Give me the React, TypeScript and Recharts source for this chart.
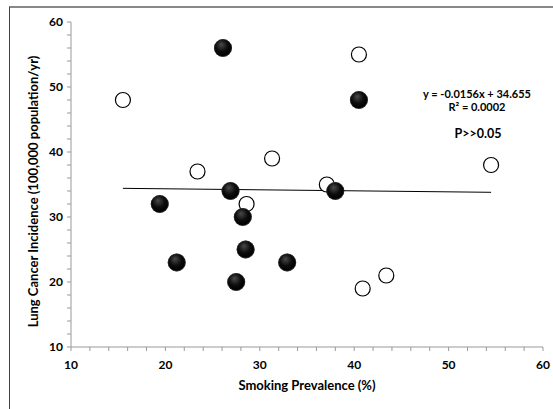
import React from 'react';
import { ScatterChart, Scatter, XAxis, YAxis, ReferenceLine, Label } from 'recharts';

// Open circles
const openX = [15.5, 23.4, 28.6, 31.3, 37.1, 40.5, 40.9, 43.4, 54.5];
const openY = [48, 37, 32, 39, 35, 55, 19, 21, 38];
// Filled spheres
const filledX = [19.4, 21.2, 26.1, 26.9, 27.5, 28.2, 28.5, 32.9, 38.0, 40.5];
const filledY = [32, 23, 56, 34, 20, 30, 25, 23, 34, 48];

const xTicks = [10, 12, 14, 16, 18, 20, 22, 24, 26, 28, 30, 32, 34, 36, 38, 40, 42, 44, 46, 48, 50, 52, 54, 56, 58, 60];
const yTicks = [10, 12, 14, 16, 18, 20, 22, 24, 26, 28, 30, 32, 34, 36, 38, 40, 42, 44, 46, 48, 50, 52, 54, 56, 58, 60];

// Trend line end points (from y = -0.0156x + 34.655)
const trendX = [15.5, 54.5];
const trendY = [34.41, 33.80];

const equationText = 'y = -0.0156x + 34.655';
const r2Text = 'R² = 0.0002';
const pText = 'P>>0.05';
const xTitle = 'Smoking Prevalence (%)';
const yTitle = 'Lung Cancer Incidence (100,000 population/yr)';

const openData = openX.map((x, i) => ({ x, y: openY[i] }));
const filledData = filledX.map((x, i) => ({ x, y: filledY[i] }));

const FONT = 'Lato, "Open Sans", sans-serif';

const OpenDot = (props: any) => {
  const { cx, cy } = props;
  if (cx == null || cy == null) return null;
  return <circle cx={cx} cy={cy} r={7.5} fill="#fff" stroke="#000" strokeWidth={1.2} />;
};

const FilledDot = (props: any) => {
  const { cx, cy } = props;
  if (cx == null || cy == null) return null;
  return (
    <g>
      <circle cx={cx} cy={cy} r={9} fill="url(#ballGrad)" />
      <circle cx={cx} cy={cy} r={8.6} fill="none" stroke="#3a3a3a" strokeWidth={0.8} strokeOpacity={0.6} />
    </g>
  );
};

const tickStyle = { fill: '#000', fontSize: 12, fontWeight: 700, fontFamily: FONT };

export default function App() {
  return (
    <div style={{ position: 'absolute', left: 0, top: 0, width: 553, height: 409, background: '#fff' }}>
      <div style={{ position: 'absolute', left: 9, top: 6, width: 544, height: 403, borderLeft: '1px solid #444', borderTop: '2px solid #888' }} />
      <div style={{ position: 'absolute', left: 0, top: 0 }}>
        <ScatterChart width={553} height={409} margin={{ top: 22, right: 10, bottom: 0, left: 0 }}>
          <defs>
            <radialGradient id="ballGrad" cx="45%" cy="40%" r="60%" fx="40%" fy="30%">
              <stop offset="0%" stopColor="#4a4a4a" />
              <stop offset="55%" stopColor="#0d0d0d" />
              <stop offset="90%" stopColor="#000" />
              <stop offset="100%" stopColor="#333" />
            </radialGradient>
          </defs>
          <XAxis
            type="number"
            dataKey="x"
            domain={[10, 60]}
            ticks={xTicks}
            interval={0}
            allowDataOverflow
            tickFormatter={(v: number) => (v % 10 === 0 ? String(v) : '')}
            tick={tickStyle}
            tickLine={{ stroke: '#999' }}
            axisLine={{ stroke: '#999' }}
            tickSize={4}
            tickMargin={9}
            height={62}
          >
            <Label
              content={(p: any) => {
                const vb = p.viewBox || { x: 71, y: 347, width: 472 };
                return (
                  <text x={vb.x + vb.width / 2} y={vb.y + 43} textAnchor="middle" fontFamily={FONT} fontWeight={700} fontSize={13} fill="#000">
                    {xTitle}
                  </text>
                );
              }}
            />
          </XAxis>
          <YAxis
            type="number"
            dataKey="y"
            domain={[10, 60]}
            ticks={yTicks}
            interval={0}
            allowDataOverflow
            tickFormatter={(v: number) => (v % 10 === 0 ? String(v) : '')}
            tick={tickStyle}
            tickLine={{ stroke: '#999' }}
            axisLine={{ stroke: '#999' }}
            tickSize={4}
            tickMargin={4}
            width={71}
          >
            <Label
              content={(p: any) => {
                const vb = p.viewBox || { x: 0, y: 22, width: 71, height: 325 };
                const cx = 33;
                const cy = vb.y + vb.height / 2 + 7;
                return (
                  <text x={cx} y={cy} transform={`rotate(-90, ${cx}, ${cy})`} textAnchor="middle" dominantBaseline="central" fontFamily={FONT} fontWeight={700} fontSize={13} fill="#000">
                    {yTitle}
                  </text>
                );
              }}
            />
          </YAxis>
          <ReferenceLine
            segment={[
              { x: trendX[0], y: trendY[0] },
              { x: trendX[1], y: trendY[1] },
            ]}
            stroke="#000"
            strokeWidth={1}
            ifOverflow="visible"
          />
          <Scatter data={openData} shape={OpenDot} isAnimationActive={false} />
          <Scatter data={filledData} shape={FilledDot} isAnimationActive={false} />
        </ScatterChart>
      </div>
      <div style={{ position: 'absolute', left: 477, top: 93, transform: 'translate(-50%, -50%)', fontFamily: FONT, fontWeight: 700, fontSize: 11, whiteSpace: 'nowrap', color: '#000' }}>
        {equationText}
      </div>
      <div style={{ position: 'absolute', left: 477, top: 106, transform: 'translate(-50%, -50%)', fontFamily: FONT, fontWeight: 700, fontSize: 11, whiteSpace: 'nowrap', color: '#000' }}>
        {r2Text}
      </div>
      <div style={{ position: 'absolute', left: 478, top: 133, transform: 'translate(-50%, -50%)', fontFamily: FONT, fontWeight: 700, fontSize: 12.5, whiteSpace: 'nowrap', color: '#000' }}>
        {pText}
      </div>
    </div>
  );
}
